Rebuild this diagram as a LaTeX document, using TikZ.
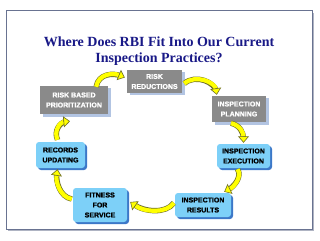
\documentclass[tikz,border=0pt]{standalone}
\usepackage{fontspec}
\setmainfont{Liberation Serif}
\newfontfamily\boxfont[FakeBold=1.6]{Liberation Sans Bold}
\usetikzlibrary{arrows.meta,calc,shadows}
\definecolor{titleblue}{RGB}{25,25,135}
\definecolor{boxgray}{RGB}{138,138,138}
\definecolor{grayshadow}{RGB}{178,196,226}
\definecolor{skyfill}{RGB}{125,208,248}
\definecolor{skyshadow}{RGB}{60,120,200}
\definecolor{arrowyellow}{RGB}{255,255,0}
\definecolor{arrowedge}{RGB}{110,110,40}
\definecolor{framecol}{RGB}{105,115,145}
\definecolor{frameshadow}{RGB}{175,180,195}
\begin{document}
\begin{tikzpicture}[x=1pt,y=-1pt,
  graybox/.style={fill=boxgray, text=white, align=center, inner sep=0pt,
    font=\boxfont\fontsize{7}{10}\selectfont,
    drop shadow={shadow xshift=2.5pt, shadow yshift=-2.5pt, fill=grayshadow, opacity=1}},
  skybox/.style={fill=skyfill, text=black, align=center, inner sep=0pt, rounded corners=3pt,
    font=\boxfont\fontsize{7}{10}\selectfont,
    drop shadow={shadow xshift=2pt, shadow yshift=-2pt, fill=skyshadow, opacity=1}},
  yarrow/.style={line width=4.2pt, draw=arrowyellow,
    -{Triangle[length=6.5pt,width=11pt,line width=0.6pt,fill=arrowyellow,color=arrowedge]},
    preaction={draw=arrowedge, line width=5.4pt, shorten >=4pt, -}}
]
\useasboundingbox (0,0) rectangle (320,240);
\fill[white] (0,0) rectangle (320,240);
% frame
\fill[frameshadow] (8,13) rectangle (314,231);
\fill[white] (6,11) rectangle (312,229);
\draw[framecol, line width=1pt] (6,11) rectangle (312,229);
% title
\node[text=titleblue, font=\bfseries\fontsize{14}{16}\selectfont, align=center, inner sep=0pt]
  (title) at (159,51) {Where Does RBI Fit Into Our Current\\Inspection Practices?};
% boxes
\node[graybox, minimum width=55pt, minimum height=23pt] (RR) at (154.5,81.5) {RISK\\REDUCTIONS};
\node[graybox, minimum width=68pt, minimum height=28pt] (RBP) at (74,100) {RISK BASED\\PRIORITIZATION};
\node[graybox, minimum width=54pt, minimum height=26pt] (IP) at (239,109) {INSPECTION\\PLANNING};
\node[skybox, minimum width=53pt, minimum height=24pt] (IE) at (243.5,156) {INSPECTION\\EXECUTION};
\node[skybox, minimum width=56pt, minimum height=24pt] (IR) at (203,205) {INSPECTION\\RESULTS};
\node[skybox, minimum width=54pt, minimum height=34pt] (FFS) at (100,205) {FITNESS\\FOR\\SERVICE};
\node[skybox, minimum width=49pt, minimum height=26pt] (RU) at (60.5,155) {RECORDS\\UPDATING};
% arrows
\draw[yarrow] ($(RBP.north east)+(-12,1)$) .. controls +(2,-13) and +(-12,-5) .. ($(RR.west)+(-2,-4)$);
\draw[yarrow] ($(RR.east)+(2,2)$) .. controls +(12,-10) and +(-2,-12) .. ($(IP.north west)+(5,-1)$);
\draw[yarrow] ($(IP.south)+(-8,1)$) .. controls +(9,2) and +(0,-10) .. ($(IE.north)+(0,-1)$);
\draw[yarrow] ($(IE.south)+(-6,1)$) .. controls +(5,7) and +(10,-5) .. ($(IR.north east)+(-7,-1)$);
\draw[yarrow] ($(IR.west)+(-1,-2)$) .. controls +(-8,11) and +(14,10) .. ($(FFS.east)+(3,-3)$);
\draw[yarrow] ($(FFS.west)+(-1,-6)$) .. controls +(-12,-2) and +(-2,12) .. ($(RU.south)+(-3,1)$);
\draw[yarrow] ($(RU.north)+(-3,-2)$) .. controls +(-4,-9) and +(-10,1) .. ($(RBP.south)+(-4,7)$);
\end{tikzpicture}
\end{document}
